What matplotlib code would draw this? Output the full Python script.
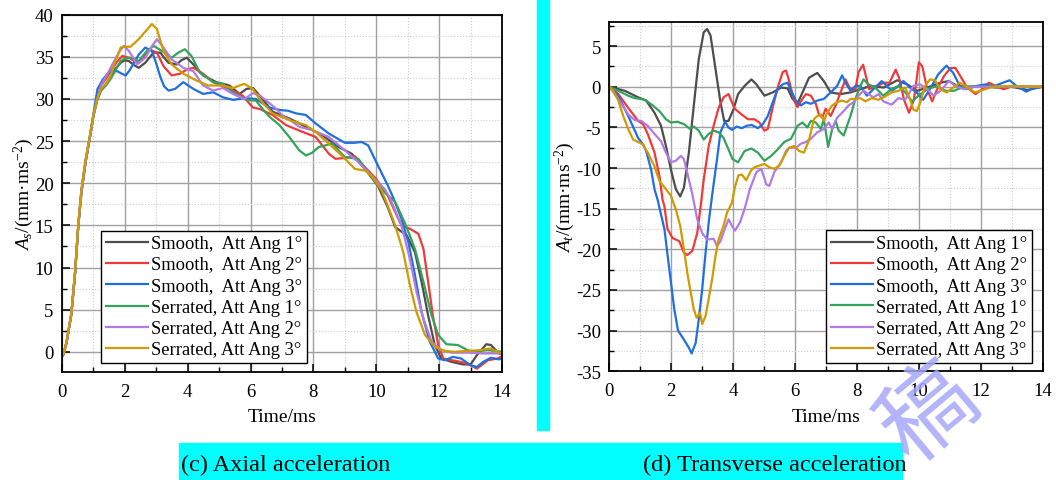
import matplotlib
matplotlib.use('Agg')
import matplotlib.pyplot as plt
from matplotlib.ticker import MultipleLocator
from matplotlib.patches import Rectangle

plt.rcParams['font.family'] = ['Liberation Serif', 'DejaVu Sans']
plt.rcParams['mathtext.fontset'] = 'custom'
plt.rcParams['mathtext.rm'] = 'Liberation Serif'
plt.rcParams['mathtext.it'] = 'Liberation Serif:italic'
plt.rcParams['axes.unicode_minus'] = False

labels = ['Smooth,  Att Ang 1°', 'Smooth,  Att Ang 2°', 'Smooth,  Att Ang 3°',
          'Serrated, Att Ang 1°', 'Serrated, Att Ang 2°', 'Serrated, Att Ang 3°']
colors = ['#4d4d4d', '#f03a3a', '#1f6fe0', '#33a35c', '#b27ae2', '#d09a00']

# ---- axial acceleration (ms, mm/ms^2) ----
ax_t_sm1 = [0, 0.05, 0.15, 0.3, 0.42, 0.52, 0.62, 0.75, 0.89, 1.0, 1.12, 1.24, 1.4, 1.55, 1.7, 1.87, 2.0,
            2.13, 2.3, 2.44, 2.65, 2.8, 2.92, 3.13, 3.25, 3.39, 3.65, 3.8, 3.97, 4.18, 4.49, 4.91, 5.33,
            5.65, 5.87, 6.08, 6.4, 6.7, 7.23, 7.76, 8.28, 8.8, 9.22, 9.64, 10.05, 10.37, 10.6, 10.97,
            11.23, 11.44, 11.65, 11.86, 12.07, 12.4, 12.76, 13.0, 13.2, 13.5, 13.65, 13.9, 14.0]
ax_sm1 = [0, -0.3, 1.2, 4.5, 9.5, 15, 19, 22.5, 25.5, 28, 30, 31.0, 31.8, 32.6, 33.6, 34.3, 34.6,
          34.5, 34.0, 33.7, 34.3, 35.0, 35.5, 35.5, 34.9, 34.3, 34.1, 34.6, 34.9, 34.1, 32.8, 32.0, 31.6,
          30.6, 31.2, 31.3, 29.9, 28.5, 27.7, 26.7, 25.7, 24.3, 23.5, 21.7, 19.7, 17.1, 14.8, 13.8,
          11.8, 8.3, 4.3, 0.8, -0.8, -1.2, -1.5, -1.5, -0.4, 0.9, 0.8, -0.2, -0.3]

ax_t_sm2 = [0, 0.05, 0.15, 0.3, 0.42, 0.52, 0.62, 0.75, 0.89, 1.0, 1.12, 1.24, 1.4, 1.55, 1.75, 1.92,
            2.13, 2.3, 2.44, 2.6, 2.76, 3.02, 3.23, 3.49, 3.76, 3.97, 4.18, 4.49, 4.81, 5.33, 5.75, 6.07,
            6.3, 6.7, 7.13, 7.65, 8.07, 8.49, 8.7, 9.0, 9.32, 9.64, 10.0, 10.37, 10.55, 10.8, 11.07,
            11.34, 11.5, 11.65, 11.8, 11.97, 12.13, 12.4, 12.7, 13.0, 13.2, 13.55, 13.87, 14.0]
ax_sm2 = [0, -0.3, 1.2, 4.5, 9.5, 15, 19, 22.5, 25.5, 28, 30, 31.6, 32.4, 33.3, 34.4, 35.1,
          34.9, 34.5, 34.3, 35.0, 35.9, 35.5, 33.9, 32.8, 33.0, 33.5, 33.7, 33.0, 32.0, 31.2, 30.4, 29.0,
          28.8, 28.1, 26.9, 26.1, 25.5, 23.5, 22.9, 23.0, 23.2, 21.9, 20.5, 18.5, 17.0, 15.0, 14.6,
          14.0, 12.2, 8.3, 4.3, 0.8, -0.8, -1.0, -1.2, -1.6, -2.0, -1.0, -0.8, -0.5]

ax_t_sm3 = [0, 0.03, 0.15, 0.3, 0.42, 0.52, 0.62, 0.75, 0.89, 1.0, 1.13, 1.3, 1.45, 1.6, 1.76, 1.9,
            2.03, 2.15, 2.29, 2.45, 2.65, 2.86, 3.0, 3.13, 3.25, 3.39, 3.6, 3.86, 4.18, 4.49, 4.81, 5.12,
            5.44, 5.86, 6.17, 6.59, 6.92, 7.2, 7.44, 7.76, 8.07, 8.49, 9.0, 9.3, 9.53, 9.74, 10.0, 10.37,
            10.55, 10.8, 11.02, 11.23, 11.44, 11.7, 11.97, 12.18, 12.44, 12.7, 13.0, 13.2, 13.4, 13.65,
            13.9, 14.0]
ax_sm3 = [0, -0.5, 1.2, 4.6, 9.6, 15.2, 19.2, 22.7, 25.7, 28.2, 31.2, 32.3, 33.0, 33.3, 33.3, 33.0,
          32.8, 33.4, 34.3, 35.3, 36.1, 35.7, 34.2, 32.6, 31.5, 31.0, 31.2, 32.0, 31.2, 30.6, 30.8, 30.2,
          29.9, 30.1, 30.0, 29.0, 28.7, 28.6, 28.3, 28.1, 27.1, 25.9, 24.8, 24.8, 24.9, 24.5, 22.5, 19.7,
          18.2, 15.8, 13.0, 9.1, 4.7, 1.2, -0.8, -1.0, -0.6, -0.8, -1.6, -1.8, -1.2, -0.7,
          -0.9, -0.8]

ax_t_se1 = [0, 0.05, 0.15, 0.3, 0.42, 0.52, 0.62, 0.75, 0.89, 1.0, 1.12, 1.24, 1.4, 1.55, 1.7, 1.87, 2.0,
            2.18, 2.44, 2.7, 2.92, 3.18, 3.49, 3.7, 3.91, 4.12, 4.39, 4.81, 5.12, 5.44, 5.86, 6.17, 6.43,
            6.6, 6.92, 7.23, 7.55, 7.76, 7.95, 8.17, 8.6, 9.0, 9.43, 9.85, 10.27, 10.6, 10.92, 11.23,
            11.5, 11.76, 11.97, 12.23, 12.6, 12.9, 13.1, 13.55, 14.0]
ax_se1 = [0, -0.3, 1.2, 4.5, 9.5, 15, 19, 22.5, 25.5, 28, 29.8, 31.0, 31.6, 32.4, 33.4, 34.5, 34.8,
          34.9, 34.5, 35.7, 36.3, 35.7, 34.9, 35.5, 35.9, 35.1, 33.1, 32.0, 31.8, 30.8, 29.9, 29.8, 28.6,
          27.9, 26.9, 25.5, 23.9, 23.3, 23.6, 24.3, 24.7, 23.1, 22.9, 20.7, 18.9, 17.8, 15.2, 12.2,
          8.3, 4.3, 2.0, 0.9, 0.8, 0.2, 0.0, 0.2, 0.0]

ax_t_se2 = [0, 0.05, 0.15, 0.3, 0.42, 0.52, 0.62, 0.75, 0.89, 1.0, 1.12, 1.24, 1.45, 1.66, 1.82, 1.97,
            2.13, 2.39, 2.65, 2.85, 3.02, 3.23, 3.49, 3.86, 4.18, 4.49, 4.81, 5.12, 5.44, 5.8, 6.08, 6.3,
            6.5, 6.8, 7.02, 7.22, 7.55, 7.96, 8.49, 9.0, 9.43, 9.85, 10.27, 10.44, 10.8, 11.07, 11.28,
            11.5, 11.76, 12.07, 12.4, 12.9, 13.44, 14.0]
ax_se2 = [0, -0.3, 1.2, 4.5, 9.5, 15, 19, 22.5, 25.5, 28, 30, 31.6, 33.0, 34.5, 35.6, 36.3,
          35.7, 34.1, 34.9, 36.2, 37.1, 36.1, 34.7, 33.7, 33.3, 31.6, 31.0, 31.3, 30.6, 30.0, 30.7, 30.4,
          29.8, 28.9, 28.0, 27.6, 26.7, 26.3, 25.5, 23.9, 22.5, 20.9, 19.3, 18.2, 15.0, 11.0, 7.1,
          3.9, 1.2, 0.2, -0.1, -0.1, -0.2, -0.2]

ax_t_se3 = [0, 0.05, 0.15, 0.3, 0.42, 0.52, 0.62, 0.75, 0.89, 1.0, 1.12, 1.24, 1.4, 1.55, 1.7, 1.87, 2.0,
            2.18, 2.44, 2.65, 2.86, 3.02, 3.23, 3.49, 3.86, 4.28, 4.65, 5.12, 5.44, 5.8, 6.07, 6.3, 6.7,
            7.23, 7.76, 8.07, 8.49, 8.9, 9.32, 9.64, 9.85, 10.16, 10.37, 10.6, 10.86, 11.07, 11.28,
            11.55, 11.86, 12.18, 12.5, 12.9, 13.3, 13.65, 13.9, 14.0]
ax_se3 = [0, -0.3, 1.3, 4.7, 9.8, 15.3, 19.3, 22.8, 25.7, 28.1, 30, 31.2, 31.8, 32.8, 34.5, 36.1, 36.2,
          36.2, 37.1, 38.0, 38.9, 38.3, 35.7, 34.1, 33.0, 32.2, 31.6, 31.6, 31.3, 31.8, 31.2, 29.9, 28.3,
          27.5, 26.9, 26.1, 24.7, 23.3, 21.7, 21.5, 20.9, 19.2, 17.3, 15.0, 11.8, 7.9, 4.7,
          2.0, 0.6, 0.1, 0.0, 0.1, 0.2, 0.4, -0.1, -0.2]

# ---- transverse acceleration ----
tr_t_sm1 = [0, 0.5, 0.93, 1.19, 1.46, 1.67, 1.83, 1.99, 2.15, 2.29, 2.41, 2.57, 2.73, 2.89, 3.05, 3.16,
            3.27, 3.43, 3.59, 3.71, 3.85, 4.01, 4.16, 4.37, 4.59, 4.75, 5.01, 5.28, 5.55, 5.76, 5.92,
            6.08, 6.24, 6.45, 6.72, 6.93, 7.15, 7.47, 7.79, 8.11, 8.44, 8.87, 9.3, 9.62, 9.95, 10.27,
            10.7, 10.97, 11.24, 11.56, 12.0, 12.5, 13.0, 13.5, 14.0]
tr_sm1 = [0, -0.5, -1.3, -1.7, -3.2, -4.8, -7.3, -10.2, -12.6, -13.5, -12.4, -8.1, -2.3, 3.4, 6.7, 7.1,
          6.3, 2.2, -1.9, -4.2, -4.2, -2.8, -0.9, 0.1, 0.9, 0.3, -1.1, -0.7, -0.1, -0.2, -1.5,
          -2.1, -0.7, 1.1, 1.7, 0.7, -0.7, -0.9, -0.7, -0.3, 0.1, -0.1, 0.8, 0.3, -0.5, -0.1,
          0.5, 0.7, 0.1, 0.0, 0.1, -0.1, 0.0, -0.4, 0.0]

tr_t_sm2 = [0, 0.29, 0.61, 0.93, 1.09, 1.24, 1.46, 1.62, 1.72, 1.78, 1.88, 2.04, 2.26, 2.41, 2.52, 2.68,
            2.84, 2.95, 3.05, 3.21, 3.37, 3.53, 3.69, 3.85, 4.05, 4.27, 4.48, 4.69, 4.85, 5.01, 5.12,
            5.28, 5.44, 5.6, 5.71, 5.81, 5.97, 6.08, 6.24, 6.35, 6.51, 6.67, 6.77, 6.88, 6.99, 7.15,
            7.31, 7.47, 7.63, 7.73, 7.84, 7.95, 8.05, 8.2, 8.39, 8.66, 8.87, 9.05, 9.25, 9.36, 9.52,
            9.68, 9.84, 10.0, 10.11, 10.27, 10.43, 10.59, 10.81, 11.02, 11.18, 11.34, 11.56, 11.83,
            12.05, 12.26, 12.53, 12.74, 13.06, 13.5, 14.0]
tr_sm2 = [0, -0.9, -2.6, -4.2, -4.6, -5.8, -8.1, -11.0, -13.9, -14.7, -17.5, -18.6, -19.0, -20.4, -20.7,
          -20.2, -18.0, -14.7, -11.4, -7.3, -4.8, -2.6, -1.3, -0.9, -2.7, -3.4, -4.0, -4.0, -4.4, -5.4,
          -5.2, -2.5, -0.1, 1.8, 2.0, 0.7, -1.7, -2.5, -1.5, -0.9, -1.1, -2.1, -3.4, -3.8, -2.7, -3.6,
          -2.3, -0.7, 0.9, 0.1, -0.5, -0.3, 1.8, 2.7, -0.3, 0.1, 0.5, 0.5, 2.1, 1.1, -1.6,
          -3.2, -1.6, 3.0, 2.5, -0.3, -1.8, -0.3, 1.3, 2.3, 2.3, 1.3, -0.1, -0.9,
          -0.3, 0.5, 0.0, -0.3, 0.1, 0.0, 0.0]

tr_t_sm3 = [0, 0.29, 0.61, 0.93, 1.09, 1.19, 1.35, 1.46, 1.56, 1.78, 1.94, 2.1, 2.22, 2.41, 2.57, 2.66,
            2.79, 2.89, 3.0, 3.11, 3.21, 3.32, 3.39, 3.48, 3.59, 3.74, 3.85, 3.96, 4.12, 4.28, 4.44,
            4.6, 4.8, 4.96, 5.12, 5.28, 5.44, 5.6, 5.76, 5.87, 6.03, 6.19, 6.35, 6.51, 6.72, 6.93,
            7.15, 7.36, 7.52, 7.63, 7.79, 7.95, 8.11, 8.32, 8.53, 8.8, 9.12, 9.28, 9.5, 9.71, 9.93,
            10.14, 10.36, 10.62, 10.89, 11.11, 11.32, 11.54, 11.86, 12.18, 12.39, 12.72, 12.93, 13.15,
            13.47, 13.68, 14.0]
tr_sm3 = [0, -1.1, -3.6, -6.3, -7.1, -7.9, -10.2, -12.6, -13.9, -17.5, -22.5, -27.4, -30.0, -31.1, -32.1,
          -32.8, -31.5, -28.6, -24.9, -20.4, -16.7, -13.4, -11.4, -8.9, -5.6, -4.3, -5.0, -5.3, -4.9,
          -5.1, -4.8, -4.7, -5.1, -4.6, -3.6, -1.9, -0.3, 0.3, 0.5, -0.5, -1.7, -2.3, -1.9, -2.1,
          -1.7, -1.5, -0.7, 0.1, 1.4, 0.5, -0.5, 0.1, 0.1, -1.1, -0.3, 0.7, -0.5, -0.1, 0.7, -0.1,
          -0.7, -1.6, -0.3, 1.5, 2.6, 1.7, 0.1, -0.3, 0.1, 0.3, 0.0, 0.5, 0.8, 0.1,
          -0.6, -0.2, 0.0]

tr_t_se1 = [0, 0.29, 0.61, 0.82, 1.03, 1.19, 1.4, 1.62, 1.83, 1.99, 2.2, 2.41, 2.61, 2.73, 2.89, 3.05,
            3.21, 3.37, 3.53, 3.69, 3.85, 3.98, 4.16, 4.37, 4.59, 4.8, 5.01, 5.23, 5.44, 5.65, 5.87,
            6.08, 6.24, 6.4, 6.51, 6.67, 6.83, 6.93, 7.07, 7.2, 7.31, 7.41, 7.57, 7.68, 7.79, 7.95,
            8.11, 8.21, 8.37, 8.59, 8.85, 9.12, 9.34, 9.56, 9.78, 9.99, 10.27, 10.59, 10.86, 11.13,
            11.45, 12.0, 13.0, 14.0]
tr_se1 = [0, -0.5, -1.1, -1.4, -1.5, -1.7, -2.3, -3.0, -4.0, -4.4, -4.3, -4.6, -5.2, -4.9, -5.4, -6.5,
          -5.8, -5.4, -5.6, -6.3, -7.7, -8.9, -9.3, -7.9, -7.6, -8.1, -9.1, -8.5, -7.7, -6.8, -6.4,
          -4.8, -4.4, -5.0, -4.2, -4.4, -5.2, -4.0, -7.4, -5.2, -4.2, -5.4, -6.0, -4.8, -3.6, -1.5,
          0.1, 0.9, 0.3, -0.1, -1.1, -0.3, 0.1, -0.7, -1.8, -1.1, -0.3, 0.1, -0.5, -0.5,
          0.0, 0.0, 0.0, 0.0]

tr_t_se2 = [0, 0.18, 0.39, 0.61, 0.82, 1.03, 1.24, 1.46, 1.67, 1.83, 1.99, 2.15, 2.31, 2.41, 2.52, 2.68,
            2.84, 3.0, 3.16, 3.37, 3.48, 3.59, 3.71, 3.85, 3.96, 4.06, 4.22, 4.38, 4.54, 4.75, 4.91,
            5.07, 5.17, 5.33, 5.55, 5.71, 5.81, 6.03, 6.19, 6.35, 6.51, 6.72, 6.93, 7.09, 7.2, 7.36,
            7.57, 7.73, 7.89, 8.05, 8.21, 8.37, 8.53, 8.7, 8.85, 9.12, 9.34, 9.56, 9.82, 10.04, 10.27,
            10.48, 10.7, 10.97, 11.18, 11.45, 11.77, 12.5, 13.5, 14.0]
tr_se2 = [0, -0.9, -2.1, -3.4, -4.1, -4.2, -4.8, -5.8, -6.7, -8.1, -9.3, -9.1, -8.5, -8.9, -10.6, -13.2,
          -16.3, -18.0, -18.8, -18.7, -19.6, -19.0, -17.7, -16.3, -17.1, -17.7, -16.7, -14.9, -12.6,
          -10.5, -10.1, -12.0, -12.2, -10.5, -9.3, -7.9, -7.5, -7.5, -7.0, -6.8, -6.4, -5.6, -5.2,
          -4.4, -5.2, -3.8, -3.0, -2.3, -1.9, -1.1, -0.5, -0.9, -1.3, -0.9, -1.8, -2.2, -1.4, -1.6,
          0.1, 0.3, -0.3, -1.1, -0.5, 0.7, 0.1, -0.3, 0.0, 0.0, 0.0, 0.0]

tr_t_se3 = [0, 0.13, 0.29, 0.45, 0.61, 0.77, 0.93, 1.09, 1.24, 1.46, 1.62, 1.83, 1.99, 2.15, 2.29, 2.41,
            2.52, 2.63, 2.73, 2.82, 2.93, 3.0, 3.11, 3.21, 3.32, 3.43, 3.53, 3.69, 3.8, 3.96, 4.06,
            4.17, 4.28, 4.42, 4.58, 4.69, 4.85, 5.01, 5.17, 5.33, 5.49, 5.65, 5.81, 5.97, 6.13, 6.29,
            6.45, 6.61, 6.72, 6.83, 6.93, 7.04, 7.2, 7.36, 7.52, 7.68, 7.79, 7.95, 8.11, 8.27, 8.48,
            8.69, 8.91, 9.12, 9.34, 9.56, 9.72, 9.82, 9.93, 10.04, 10.2, 10.36, 10.52, 10.69, 10.9,
            11.11, 11.32, 11.54, 11.81, 12.07, 12.39, 13.0, 14.0]
tr_se3 = [0, -0.5, -1.7, -3.6, -5.2, -6.5, -6.8, -7.1, -8.1, -9.8, -11.6, -12.6, -13.4, -15.1, -17.1,
          -20.0, -22.9, -25.3, -27.4, -28.4, -27.8, -29.2, -28.2, -26.1, -23.7, -20.8, -18.8, -17.1,
          -15.5, -14.3, -12.3, -10.9, -10.8, -11.5, -10.3, -9.9, -9.7, -9.5, -9.9, -10.1, -9.7, -8.5,
          -7.5, -7.3, -7.9, -8.1, -6.6, -4.0, -3.6, -3.4, -4.2, -3.2, -2.3, -1.9, -1.7, -1.9, -1.5,
          -1.5, -1.4, -1.8, -1.4, -1.6, -1.2, -0.7, -0.5, -0.1, -1.6, -2.8, -3.0, -2.0, 0.1, 0.9,
          0.8, -0.3, -0.7, -0.1, 0.5, 0.0, -0.7, -0.4, 0.0, 0.1, 0.0]

axial = [(ax_t_sm1, ax_sm1), (ax_t_sm2, ax_sm2), (ax_t_sm3, ax_sm3),
         (ax_t_se1, ax_se1), (ax_t_se2, ax_se2), (ax_t_se3, ax_se3)]
transverse = [(tr_t_sm1, tr_sm1), (tr_t_sm2, tr_sm2), (tr_t_sm3, tr_sm3),
              (tr_t_se1, tr_se1), (tr_t_se2, tr_se2), (tr_t_se3, tr_se3)]

fig = plt.figure(figsize=(10.56, 4.81), dpi=100)
ax1 = fig.add_axes([0.0587, 0.2245, 0.4167, 0.7428])
ax2 = fig.add_axes([0.577, 0.226, 0.4104, 0.7268])

FS = 13.5


def style(ax, ylo, yhi, ylab):
    ax.set_xlim(0, 14)
    ax.set_ylim(ylo, yhi)
    ax.xaxis.set_major_locator(MultipleLocator(2))
    ax.xaxis.set_minor_locator(MultipleLocator(1))
    ax.yaxis.set_major_locator(MultipleLocator(5))
    ax.yaxis.set_minor_locator(MultipleLocator(2.5))
    ax.set_axisbelow(True)
    ax.grid(which='major', color='#a0a0a0', lw=1.0)
    ax.grid(which='minor', color='#cccccc', lw=0.8, ls=':')
    ax.tick_params(which='both', direction='in', top=False, right=False, labelsize=FS, pad=6)
    ax.tick_params(axis='x', which='both', pad=8)
    ax.tick_params(which='major', length=6, width=1.1)
    ax.tick_params(which='minor', length=3.5, width=1.0)
    for s in ax.spines.values():
        s.set_linewidth(1.3)
    ax.set_xlabel('Time/ms', fontsize=14, labelpad=6)
    ax.set_ylabel(ylab, fontsize=14, labelpad=-1)


for (t, v), c, lab in zip(axial, colors, labels):
    ax1.plot(t, v, color=c, lw=1.6, label=lab)
for (t, v), c, lab in zip(transverse, colors, labels):
    ax2.plot(t, v, color=c, lw=1.6, label=lab)

style(ax1, -2.4, 40, r'$A_s$/(mm·ms$^{-2}$)')
style(ax2, -35, 8, r'$A_t$/(mm·ms$^{-2}$)')

for ax, loc, anchor in [(ax1, 'lower left', (0.0886, 0.025)), (ax2, 'lower right', (0.975, 0.024))]:
    leg = ax.legend(loc=loc, bbox_to_anchor=anchor, borderaxespad=0, fancybox=False,
                    edgecolor='black', framealpha=1, fontsize=13.3, handlelength=2.3,
                    handletextpad=0.15, labelspacing=0.23, borderpad=0.25)
    leg.get_frame().set_linewidth(1.0)

# cyan bands and captions
fig.patches.append(Rectangle((0.5085, 0.1046), 0.0114, 0.8954, transform=fig.transFigure,
                             color='#00ffff', zorder=0))
fig.patches.append(Rectangle((0.1695, 0.0), 0.6847, 0.0769, transform=fig.transFigure,
                             color='#00ffff', zorder=0))
fig.text(0.171, 0.032, '(c) Axial acceleration', fontsize=17.5, va='center')
fig.text(0.609, 0.032, '(d) Transverse acceleration', fontsize=17.5, va='center')

# stamp in the lower right corner
fig.text(0.88, 0.14, '稿', family=['Noto Sans CJK SC'], fontsize=68, color='#a6a6fb',
         rotation=40, ha='center', va='center', alpha=0.85, zorder=5)

fig.savefig('out.png', dpi=100)
